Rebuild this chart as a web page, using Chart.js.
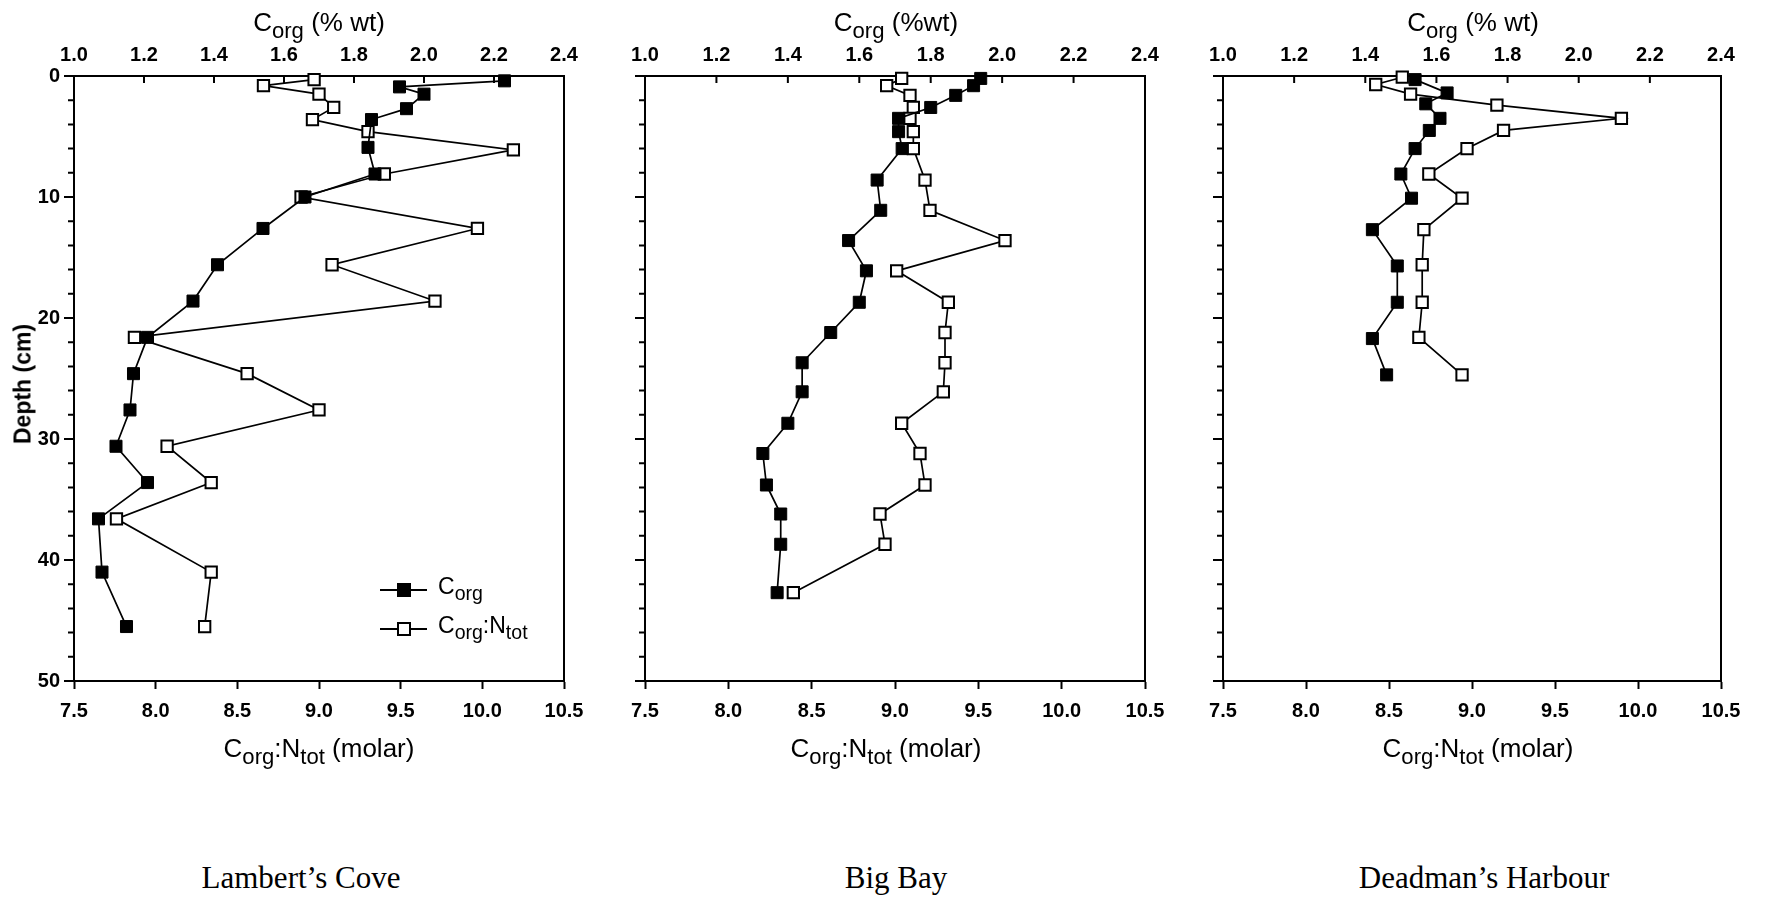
<!DOCTYPE html>
<html>
<head>
<meta charset="utf-8">
<script src="https://cdn.jsdelivr.net/npm/chart.js@4.4.1/dist/chart.umd.min.js"></script>
<style>
  body { margin: 0; background: #fff; }
  #page { position: relative; width: 1765px; height: 900px; overflow: hidden;
          font-family: 'Liberation Sans', Arial, sans-serif; color: #000; }
  canvas { position: absolute; top: 0; }
  .lbl { position: absolute; white-space: nowrap; line-height: 1; transform: translateX(-50%); }
  .axis-title { font-size: 26px; }
  .sub { font-size: 0.85em; position: relative; top: 0.3em; }
  .site { font-family: 'Liberation Serif', 'Times New Roman', serif; font-size: 31px; }
  #depth { position: absolute; left: 23px; top: 384px; font-size: 23px; font-weight: bold; line-height: 1;
           white-space: nowrap; transform: translate(-50%, -50%) rotate(-90deg); }
  .leg-line { position: absolute; left: 380px; width: 47px; height: 2px; background: #000; }
  .leg-box { position: absolute; left: 397px; width: 10px; height: 10px; border: 2px solid #000; }
  .leg-text { position: absolute; left: 438px; font-size: 23px; line-height: 1; white-space: nowrap; }
</style>
</head>
<body>
<div id="page">
  <canvas id="lc"></canvas>
  <canvas id="bb"></canvas>
  <canvas id="dh"></canvas>

  <div class="lbl axis-title" style="left:319px; top:9px">C<span class="sub">org</span> (% wt)</div>
  <div class="lbl axis-title" style="left:896px; top:9px">C<span class="sub">org</span> (%wt)</div>
  <div class="lbl axis-title" style="left:1473px; top:9px">C<span class="sub">org</span> (% wt)</div>

  <div class="lbl axis-title" style="left:319px; top:735px">C<span class="sub">org</span>:N<span class="sub">tot</span> (molar)</div>
  <div class="lbl axis-title" style="left:886px; top:735px">C<span class="sub">org</span>:N<span class="sub">tot</span> (molar)</div>
  <div class="lbl axis-title" style="left:1478px; top:735px">C<span class="sub">org</span>:N<span class="sub">tot</span> (molar)</div>

  <div id="depth">Depth (cm)</div>

  <div class="lbl site" style="left:301px; top:862px">Lambert’s Cove</div>
  <div class="lbl site" style="left:896px; top:862px">Big Bay</div>
  <div class="lbl site" style="left:1484px; top:862px">Deadman’s Harbour</div>

  <!-- legend (Lambert's Cove panel) -->
  <div class="leg-line" style="top:589px"></div>
  <div class="leg-box" style="top:583px; background:#000"></div>
  <div class="leg-text" style="top:575px">C<span class="sub">org</span></div>
  <div class="leg-line" style="top:628px"></div>
  <div class="leg-box" style="top:622px; background:#fff"></div>
  <div class="leg-text" style="top:614px">C<span class="sub">org</span>:N<span class="sub">tot</span></div>
</div>

<script>
// Lambert's Cove
const lcCorgDepth = [0.4, 0.9, 1.5, 2.7, 3.6, 5.9, 8.1, 10.0, 12.6, 15.6, 18.6, 21.6, 24.6, 27.6, 30.6, 33.6, 36.6, 41.0, 45.5];
const lcCorg      = [2.23, 1.93, 2.00, 1.95, 1.85, 1.84, 1.86, 1.66, 1.54, 1.41, 1.34, 1.21, 1.17, 1.16, 1.12, 1.21, 1.07, 1.08, 1.15];
const lcRatioDepth = [0.3, 0.8, 1.5, 2.6, 3.6, 4.6, 6.1, 8.1, 10.0, 12.6, 15.6, 18.6, 21.6, 24.6, 27.6, 30.6, 33.6, 36.6, 41.0, 45.5];
const lcRatio      = [8.97, 8.66, 9.00, 9.09, 8.96, 9.30, 10.19, 9.40, 8.89, 9.97, 9.08, 9.71, 7.87, 8.56, 9.00, 8.07, 8.34, 7.76, 8.34, 8.30];

// Big Bay
const bbCorgDepth = [0.2, 0.8, 1.6, 2.6, 3.5, 4.6, 6.0, 8.6, 11.1, 13.6, 16.1, 18.7, 21.2, 23.7, 26.1, 28.7, 31.2, 33.8, 36.2, 38.7, 42.7];
const bbCorg      = [1.94, 1.92, 1.87, 1.80, 1.71, 1.71, 1.72, 1.65, 1.66, 1.57, 1.62, 1.60, 1.52, 1.44, 1.44, 1.40, 1.33, 1.34, 1.38, 1.38, 1.37];
const bbRatioDepth = [0.2, 0.8, 1.6, 2.6, 3.5, 4.6, 6.0, 8.6, 11.1, 13.6, 16.1, 18.7, 21.2, 23.7, 26.1, 28.7, 31.2, 33.8, 36.2, 38.7, 42.7];
const bbRatio      = [9.04, 8.95, 9.09, 9.11, 9.09, 9.11, 9.11, 9.18, 9.21, 9.66, 9.01, 9.32, 9.30, 9.30, 9.29, 9.04, 9.15, 9.18, 8.91, 8.94, 8.39];

// Deadman's Harbour
const dhCorgDepth = [0.3, 1.4, 2.3, 3.5, 4.5, 6.0, 8.1, 10.1, 12.7, 15.7, 18.7, 21.7, 24.7];
const dhCorg      = [1.54, 1.63, 1.57, 1.61, 1.58, 1.54, 1.50, 1.53, 1.42, 1.49, 1.49, 1.42, 1.46];
const dhRatioDepth = [0.1, 0.7, 1.5, 2.4, 3.5, 4.5, 6.0, 8.1, 10.1, 12.7, 15.6, 18.7, 21.6, 24.7];
const dhRatio      = [8.58, 8.42, 8.63, 9.15, 9.90, 9.19, 8.97, 8.74, 8.94, 8.71, 8.70, 8.70, 8.68, 8.94];

const PLOT_TOP = 76, PLOT_BOTTOM = 681, CANVAS_H = 770, LEFT_PAD = 70, RIGHT_PAD = 30;

Chart.defaults.font.family = "'Liberation Sans', Arial, sans-serif";
Chart.defaults.font.size = 20;
Chart.defaults.font.weight = 'bold';
Chart.defaults.color = '#000';

// inward ticks on the top axis, long/short ticks on the depth axis
const tickMarks = {
    id: 'tickMarks',
    beforeDatasetsDraw(chart) {
        const { ctx, chartArea, scales } = chart;
        ctx.save();
        ctx.strokeStyle = '#000';
        ctx.lineWidth = 2;
        ctx.beginPath();
        scales.x2.ticks.forEach(t => {
            const px = scales.x2.getPixelForValue(t.value);
            ctx.moveTo(px, chartArea.top);
            ctx.lineTo(px, chartArea.top + 7);
        });
        scales.y.ticks.forEach(t => {
            const py = scales.y.getPixelForValue(t.value);
            const len = t.value % 10 === 0 ? 10 : 6;
            ctx.moveTo(chartArea.left, py);
            ctx.lineTo(chartArea.left - len, py);
        });
        ctx.stroke();
        ctx.restore();
    }
};

function toPoints(xs, ys) {
    return xs.map((v, i) => ({ x: v, y: ys[i] }));
}

function makePanel(id, plotLeft, plotRight, corgDepth, corg, ratioDepth, ratio, showDepthLabels) {
    const canvas = document.getElementById(id);
    canvas.width = plotRight - plotLeft + LEFT_PAD + RIGHT_PAD;
    canvas.height = CANVAS_H;
    canvas.style.left = (plotLeft - LEFT_PAD) + 'px';

    const border = { color: '#000', width: 2 };

    return new Chart(canvas, {
        type: 'scatter',
        data: {
            datasets: [
                {
                    label: 'Corg',
                    data: toPoints(corg, corgDepth),
                    xAxisID: 'x2', yAxisID: 'y',
                    showLine: true, clip: false,
                    borderColor: '#000', borderWidth: 1.7,
                    pointStyle: 'rect', pointRadius: 8.5,
                    pointBackgroundColor: '#000', pointBorderColor: '#000', pointBorderWidth: 1
                },
                {
                    label: 'Corg:Ntot',
                    data: toPoints(ratio, ratioDepth),
                    xAxisID: 'x', yAxisID: 'y',
                    showLine: true, clip: false,
                    borderColor: '#000', borderWidth: 1.7,
                    pointStyle: 'rect', pointRadius: 8,
                    pointBackgroundColor: '#fff', pointBorderColor: '#000', pointBorderWidth: 2
                }
            ]
        },
        options: {
            responsive: false,
            animation: false,
            layout: { padding: 0 },
            plugins: { legend: { display: false }, tooltip: { enabled: false } },
            scales: {
                x: {
                    type: 'linear', position: 'bottom', min: 7.5, max: 10.5,
                    ticks: { stepSize: 0.5, padding: 10, maxRotation: 0, autoSkip: false,
                             callback: v => v.toFixed(1) },
                    grid: { drawOnChartArea: false, drawTicks: true, tickLength: 8, tickWidth: 2, tickColor: '#000' },
                    border: border,
                    afterFit: s => { s.height = CANVAS_H - PLOT_BOTTOM; }
                },
                x2: {
                    type: 'linear', position: 'top', min: 1.0, max: 2.4,
                    ticks: { stepSize: 0.2, padding: 9, maxRotation: 0, autoSkip: false,
                             callback: v => v.toFixed(1) },
                    grid: { drawOnChartArea: false, drawTicks: false },
                    border: border,
                    afterFit: s => { s.height = PLOT_TOP; }
                },
                y: {
                    type: 'linear', position: 'left', reverse: true, min: 0, max: 50,
                    ticks: { stepSize: 2, padding: 14, autoSkip: false,
                             callback: v => (showDepthLabels && v % 10 === 0) ? v : '' },
                    grid: { drawOnChartArea: false, drawTicks: false },
                    border: border,
                    afterFit: s => { s.width = LEFT_PAD; }
                },
                yR: {
                    type: 'linear', position: 'right', min: 0, max: 50,
                    ticks: { display: false },
                    grid: { drawOnChartArea: false, drawTicks: false },
                    border: border,
                    afterFit: s => { s.width = RIGHT_PAD; }
                }
            }
        },
        plugins: [tickMarks]
    });
}

makePanel('lc', 74, 564, lcCorgDepth, lcCorg, lcRatioDepth, lcRatio, true);
makePanel('bb', 645, 1145, bbCorgDepth, bbCorg, bbRatioDepth, bbRatio, false);
makePanel('dh', 1223, 1721, dhCorgDepth, dhCorg, dhRatioDepth, dhRatio, false);
</script>
</body>
</html>
